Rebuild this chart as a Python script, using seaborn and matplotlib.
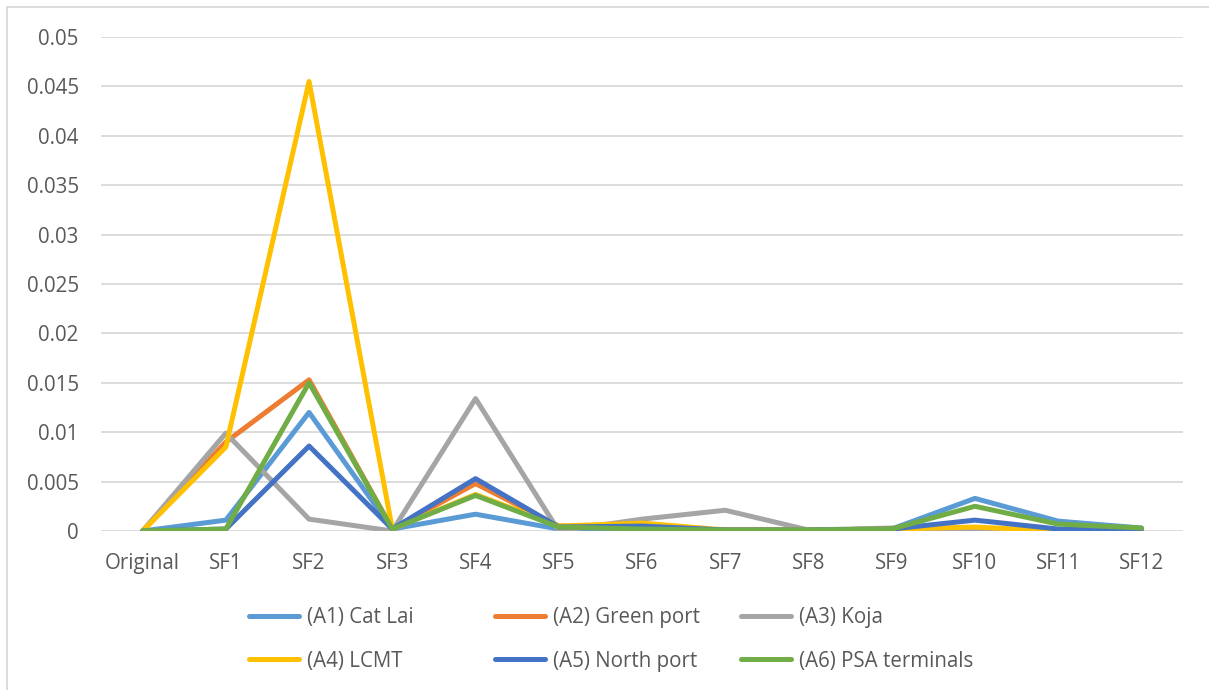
import matplotlib.pyplot as plt
import seaborn as sns
import pandas as pd

categories = ["Original", "SF1", "SF2", "SF3", "SF4", "SF5", "SF6",
              "SF7", "SF8", "SF9", "SF10", "SF11", "SF12"]

cat_lai = [0, 0.0011, 0.0120, 0.0002, 0.0017, 0.0002, 0.0002, 0.0001, 0.0001, 0.0002, 0.0033, 0.0010, 0.0003]
green_port = [0, 0.0090, 0.0153, 0.0002, 0.0048, 0.0005, 0.0004, 0.0001, 0.0001, 0.0002, 0.0001, 0.0000, 0.0002]
koja = [0, 0.0099, 0.0012, 0.0000, 0.0134, 0.0000, 0.0012, 0.0021, 0.0001, 0.0003, 0.0000, 0.0000, 0.0002]
lcmt = [0, 0.0085, 0.0455, 0.0002, 0.0037, 0.0005, 0.0008, 0.0001, 0.0001, 0.0002, 0.0004, 0.0000, 0.0002]
north_port = [0, 0.0002, 0.0086, 0.0002, 0.0053, 0.0004, 0.0005, 0.0001, 0.0001, 0.0002, 0.0011, 0.0002, 0.0002]
psa_terminals = [0, 0.0002, 0.0150, 0.0002, 0.0036, 0.0004, 0.0002, 0.0001, 0.0001, 0.0002, 0.0025, 0.0007, 0.0003]

series_names = ["(A1) Cat Lai", "(A2) Green port", "(A3) Koja",
                "(A4) LCMT", "(A5) North port", "(A6) PSA terminals"]
series_values = [cat_lai, green_port, koja, lcmt, north_port, psa_terminals]
colors = ["#5B9BD5", "#ED7D31", "#A5A5A5", "#FFC000", "#4472C4", "#70AD47"]
y_ticks = [0, 0.005, 0.01, 0.015, 0.02, 0.025, 0.03, 0.035, 0.04, 0.045, 0.05]
y_tick_labels = ["0", "0.005", "0.01", "0.015", "0.02", "0.025", "0.03",
                 "0.035", "0.04", "0.045", "0.05"]

rows = []
for name, vals in zip(series_names, series_values):
    for i, v in enumerate(vals):
        rows.append({"pos": i, "value": v, "series": name})
df = pd.DataFrame(rows)

sns.set_theme(style="white")
plt.rcParams['font.family'] = ['Open Sans', 'DejaVu Sans']

W, H = 1209, 690
fig = plt.figure(figsize=(W / 100, H / 100), dpi=100)
ax = fig.add_axes([101 / W, 1 - 531 / H, (1183 - 101) / W, (531 - 37) / H])

sns.lineplot(data=df, x="pos", y="value", hue="series", hue_order=series_names,
             palette=colors, linewidth=3.6, ax=ax, sort=False,
             solid_joinstyle='round', solid_capstyle='round')

ax.set_xlim(-0.5, len(categories) - 0.5)
ax.set_ylim(0, 0.05)
ax.set_xticks(range(len(categories)))
ax.set_xticklabels(categories)
ax.set_yticks(y_ticks)
ax.set_yticklabels(y_tick_labels)
ax.set_xlabel("")
ax.set_ylabel("")
ax.grid(axis='y', color='#D9D9D9', linewidth=1.3)
ax.set_axisbelow(True)
for s in ax.spines.values():
    s.set_visible(False)
ax.tick_params(axis='both', length=0, labelsize=14.8, colors='#595959')
ax.tick_params(axis='y', pad=16)
ax.tick_params(axis='x', pad=16)

handles, labels = ax.get_legend_handles_labels()
ax.get_legend().remove()

# Excel style legend: three fixed columns, two rows
col_x = [249, 495, 741]
for c in range(3):
    idx = [c, c + 3]
    leg = fig.legend([handles[i] for i in idx], [labels[i] for i in idx],
                     loc='upper left', bbox_to_anchor=(col_x[c] / W, 1 - 607 / H),
                     frameon=False, fontsize=14.8, handlelength=2.45,
                     handletextpad=0.35, labelspacing=1.1,
                     borderpad=0, borderaxespad=0)
    for t in leg.get_texts():
        t.set_color('#595959')

# chart border
fig.add_artist(plt.Line2D([7 / W, 7 / W], [0, 1 - 7 / H], color='#D9D9D9', linewidth=1.3))
fig.add_artist(plt.Line2D([7 / W, 1], [1 - 7 / H, 1 - 7 / H], color='#D9D9D9', linewidth=1.3))

fig.savefig("out.png", dpi=100)
